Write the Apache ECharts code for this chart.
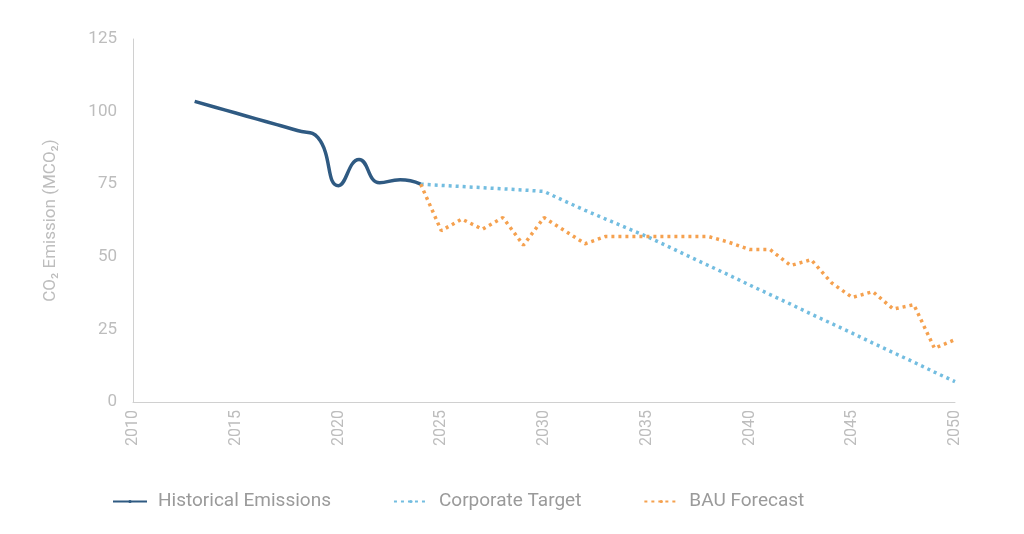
<!DOCTYPE html>
<html>
<head>
<meta charset="utf-8">
<script src="https://cdn.jsdelivr.net/npm/echarts@6/dist/echarts.min.js"></script>
<style>html,body{margin:0;background:#fff}#chart{width:1024px;height:534px}</style>
</head>
<body>
<div id="chart"></div>
<script>
    var histYears = [2013, 2014, 2015, 2016, 2017, 2018, 2019, 2020, 2021, 2022, 2023, 2024];
    var histValues = [103.5, 101.5, 99.5, 97.5, 95.5, 93.5, 91, 74.5, 83.5, 75.5, 76.5, 75];

    var fcYears = [2024, 2025, 2026, 2027, 2028, 2029, 2030, 2031, 2032, 2033, 2034, 2035, 2036, 2037,
        2038, 2039, 2040, 2041, 2042, 2043, 2044, 2045, 2046, 2047, 2048, 2049, 2050];
    var targetValues = [75, 74.6, 74.2, 73.8, 73.4, 73, 72.5, 69.2, 66, 63, 60, 57, 53.7, 50.3,
        47, 43.7, 40.3, 37, 33.7, 30.3, 27, 23.7, 20.3, 17, 13.7, 10.3, 7];
    var bauValues = [75, 59, 63, 59.5, 63.5, 54, 63.5, 59, 54.5, 57, 57, 57, 57, 57,
        57, 55, 52.5, 52.5, 47, 49, 41, 36, 38, 32, 33.5, 18.5, 21.5];

    function pairs(xs, ys) {
        return xs.map(function (x, i) { return [x, ys[i]]; });
    }

    var grey = '#bdbdbd';
    var chart = echarts.init(document.getElementById('chart'));
    chart.setOption({
        animation: false,
        textStyle: { fontFamily: 'Roboto' },
        grid: { left: 133, right: 69, top: 39, bottom: 132 },
        legend: {
            left: 107, top: 487, itemWidth: 34, itemHeight: 4, itemGap: 62,
            textStyle: { color: '#9a9a9a', fontSize: 19, fontFamily: 'Roboto', padding: [0, 0, 0, 6] },
            data: ['Historical Emissions', 'Corporate Target', 'BAU Forecast']
        },
        xAxis: {
            type: 'value', min: 2010, max: 2050, interval: 5,
            axisLine: { lineStyle: { color: '#d0d0d0' } },
            axisTick: { show: false },
            splitLine: { show: false },
            axisLabel: { rotate: 90, color: grey, fontSize: 16, margin: 8,
                formatter: function (v) { return String(v); } }
        },
        yAxis: {
            type: 'value', min: 0, max: 125, interval: 25,
            name: 'CO₂ Emission (MCO₂)', nameLocation: 'middle', nameGap: 74,
            nameTextStyle: { color: grey, fontSize: 17 },
            axisLine: { show: true, lineStyle: { color: '#d0d0d0' } },
            axisTick: { show: false },
            splitLine: { show: false },
            axisLabel: { color: grey, fontSize: 17, margin: 16 }
        },
        series: [{
            name: 'Historical Emissions', type: 'line', smooth: 0.5, symbol: 'none',
            data: pairs(histYears, histValues),
            itemStyle: { color: '#2f5a82' },
            lineStyle: { color: '#2f5a82', width: 3.5 }
        }, {
            name: 'Corporate Target', type: 'line', symbol: 'none',
            data: pairs(fcYears, targetValues),
            itemStyle: { color: '#73bde0' },
            lineStyle: { color: '#73bde0', width: 3.5, type: [3, 4] }
        }, {
            name: 'BAU Forecast', type: 'line', symbol: 'none',
            data: pairs(fcYears, bauValues),
            itemStyle: { color: '#f5a14f' },
            lineStyle: { color: '#f5a14f', width: 3.5, type: [3, 4] }
        }]
    });
</script>
</body>
</html>
